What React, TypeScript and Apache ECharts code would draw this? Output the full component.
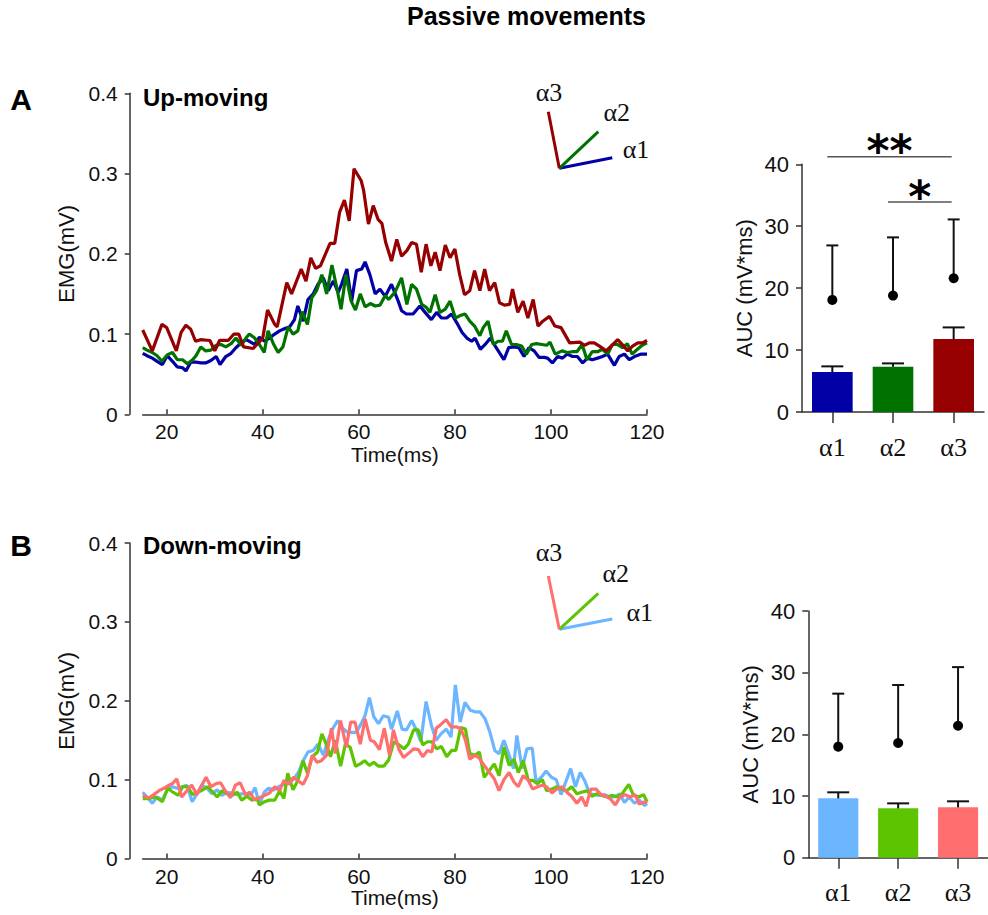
import React, { useEffect, useRef } from 'react';
import * as echarts from 'echarts';

// ---------- data ----------
const timeTicks = [20, 40, 60, 80, 100, 120];

// Up-moving EMG traces [time ms, EMG mV]
const upAlpha1: number[][] = [[15,0.076],[15.9,0.073],[17,0.070],[18,0.066],[19.1,0.062],[20.1,0.073],[21.2,0.066],[22.2,0.059],[23.3,0.058],[24,0.054],[25,0.065],[26.1,0.065],[27.1,0.064],[28.1,0.064],[29.2,0.067],[30.3,0.072],[31.1,0.062],[32.3,0.072],[33.4,0.076],[34.4,0.083],[35.5,0.089],[36.5,0.093],[37.2,0.091],[38.3,0.087],[39.3,0.096],[40.4,0.091],[41.4,0.095],[42.5,0.100],[43.5,0.104],[44.6,0.107],[45.6,0.109],[46.6,0.118],[47.3,0.135],[48.4,0.116],[49.4,0.143],[50.5,0.150],[51.5,0.162],[52.6,0.170],[53.6,0.154],[54.7,0.166],[55.7,0.152],[56.4,0.162],[57.5,0.181],[58.5,0.141],[59.5,0.179],[60.6,0.181],[61.3,0.190],[62.3,0.174],[63.4,0.150],[64.4,0.156],[65.5,0.147],[66.8,0.162],[68.2,0.141],[68.9,0.129],[69.9,0.125],[71.3,0.125],[72.7,0.135],[73.8,0.127],[75.1,0.118],[76.2,0.127],[77.2,0.120],[78.3,0.120],[79.3,0.125],[80.4,0.114],[81.5,0.102],[82.5,0.095],[83.5,0.091],[84.2,0.095],[85.3,0.081],[86.3,0.087],[87.4,0.095],[88.4,0.085],[90.2,0.068],[91.2,0.083],[92.3,0.084],[93.3,0.083],[94.4,0.072],[95.4,0.083],[96.5,0.079],[97.5,0.071],[98.6,0.071],[99.3,0.070],[100.3,0.064],[101.4,0.072],[102.4,0.070],[103.4,0.075],[104.5,0.072],[105.5,0.072],[106.6,0.064],[107.6,0.070],[108.6,0.068],[109.7,0.070],[110.7,0.072],[111.8,0.075],[113.2,0.061],[114.2,0.072],[115.3,0.075],[116.3,0.068],[117.4,0.072],[118.8,0.075],[120,0.075]];
const upAlpha2: number[][] = [[15,0.083],[15.9,0.080],[17,0.077],[18,0.073],[19,0.066],[20.1,0.074],[21.2,0.077],[22.2,0.068],[23.3,0.068],[24.3,0.063],[25.4,0.068],[26.1,0.073],[27.1,0.084],[28.1,0.079],[29.2,0.080],[30.3,0.086],[31.3,0.087],[32.3,0.084],[33.4,0.088],[34.4,0.095],[35.5,0.086],[36.5,0.095],[37.2,0.100],[38.3,0.095],[39.3,0.087],[40.3,0.077],[41.1,0.104],[42.2,0.088],[43.2,0.077],[44.2,0.084],[45.3,0.109],[46.3,0.100],[47.3,0.104],[48.2,0.128],[49.3,0.112],[50.2,0.145],[51.2,0.154],[52.3,0.174],[53.3,0.150],[54.4,0.186],[55.4,0.158],[56.3,0.131],[57.3,0.174],[58.4,0.141],[59.3,0.130],[60.3,0.150],[61.3,0.134],[62.4,0.138],[63.4,0.135],[64.4,0.136],[65.5,0.148],[66.2,0.143],[67.5,0.152],[68.9,0.170],[70,0.137],[71,0.162],[72,0.156],[73.1,0.137],[74.1,0.133],[74.8,0.127],[75.9,0.149],[76.9,0.127],[78,0.131],[79,0.141],[80.1,0.120],[81.1,0.123],[82.1,0.125],[83.1,0.116],[84.1,0.110],[85.2,0.098],[85.9,0.108],[86.9,0.116],[88,0.087],[89,0.091],[89.9,0.091],[90.7,0.104],[91.8,0.087],[92.8,0.087],[93.9,0.085],[94.9,0.075],[96,0.087],[97,0.088],[98.1,0.087],[99.1,0.086],[99.8,0.090],[100.9,0.075],[102.3,0.079],[103.4,0.077],[104.4,0.078],[105.4,0.078],[106.5,0.087],[107.5,0.068],[108.6,0.078],[109.7,0.078],[110.7,0.081],[111.8,0.075],[112.8,0.087],[113.8,0.087],[114.9,0.083],[115.9,0.088],[116.9,0.075],[118,0.081],[119,0.086],[120,0.089]];
const upAlpha3: number[][] = [[15,0.105],[17,0.079],[19,0.112],[20,0.108],[22,0.079],[23,0.102],[24,0.111],[25,0.106],[26,0.091],[27,0.093],[29,0.092],[30,0.079],[31,0.092],[32.8,0.092],[34,0.100],[35,0.100],[36,0.084],[38,0.082],[40,0.095],[41,0.130],[42.5,0.112],[43,0.109],[45,0.164],[46,0.150],[48,0.181],[49,0.166],[50,0.195],[51,0.182],[52,0.185],[54,0.213],[55,0.213],[56,0.252],[57,0.267],[58,0.241],[59,0.306],[60.5,0.291],[61,0.279],[62,0.237],[63,0.260],[64,0.243],[64.8,0.238],[65.6,0.214],[66.8,0.191],[67.9,0.218],[68.9,0.197],[70,0.204],[71,0.214],[72,0.212],[73,0.177],[74,0.212],[75,0.185],[75.9,0.202],[76.9,0.179],[78,0.211],[79,0.195],[80,0.206],[81,0.174],[82,0.149],[83.1,0.154],[84.1,0.179],[85.2,0.154],[86.2,0.181],[87.2,0.154],[88.3,0.164],[89.3,0.139],[90.3,0.136],[91.4,0.137],[92,0.156],[93.1,0.127],[94.2,0.141],[95.2,0.120],[96.3,0.143],[97.3,0.110],[98.3,0.116],[99.7,0.122],[100.8,0.110],[102.1,0.108],[103.9,0.089],[106,0.090],[107,0.086],[108,0.089],[109,0.089],[110.1,0.085],[111.5,0.079],[112.9,0.087],[113.9,0.093],[115,0.086],[116,0.079],[117,0.085],[118.1,0.089],[119.1,0.089],[120,0.092]];

// Down-moving EMG traces
const downAlpha1: number[][] = [[15,0.084],[15.9,0.078],[17,0.070],[18,0.078],[19.1,0.074],[20.1,0.087],[21.2,0.091],[22.2,0.089],[23.3,0.091],[24.2,0.093],[25.3,0.072],[26.3,0.082],[27.3,0.093],[28.4,0.089],[29.4,0.082],[30.5,0.087],[31.5,0.080],[32.5,0.084],[33.6,0.083],[34.6,0.081],[35.6,0.082],[36.7,0.082],[37.6,0.081],[38.4,0.090],[39.3,0.068],[40.3,0.084],[41.2,0.089],[42.3,0.087],[43.3,0.091],[44.4,0.094],[45.4,0.097],[46.4,0.100],[47.5,0.110],[48.4,0.124],[49.4,0.135],[50.5,0.137],[51.5,0.145],[52.6,0.131],[53.6,0.150],[54.6,0.165],[55.6,0.175],[56.5,0.166],[57.6,0.160],[58.4,0.160],[59.5,0.160],[60.5,0.171],[61.3,0.181],[62.2,0.204],[63.1,0.180],[64.1,0.171],[65.1,0.181],[66.2,0.179],[66.8,0.164],[68,0.187],[69,0.164],[69.9,0.163],[71,0.175],[72,0.163],[72.9,0.148],[74,0.199],[75.1,0.169],[76.1,0.150],[77.1,0.158],[78.2,0.164],[79.2,0.154],[80.1,0.220],[81.1,0.173],[82.1,0.198],[83.2,0.188],[84.2,0.186],[85.2,0.186],[86.3,0.177],[87.3,0.160],[88.3,0.137],[89.2,0.133],[90.2,0.150],[91.3,0.131],[92.2,0.114],[92.9,0.156],[94,0.114],[95,0.139],[96.1,0.140],[96.9,0.097],[98,0.103],[99,0.111],[100.1,0.103],[101.1,0.100],[102.1,0.081],[103.2,0.099],[104.1,0.114],[105.1,0.091],[106.1,0.109],[107,0.099],[108.1,0.082],[109.1,0.081],[110.1,0.080],[111.2,0.081],[112.2,0.078],[113.2,0.078],[114.3,0.082],[115.3,0.071],[116.3,0.078],[117.4,0.070],[118.4,0.074],[119.5,0.067],[120,0.070]];
const downAlpha2: number[][] = [[15,0.076],[16.3,0.076],[17.7,0.078],[19.1,0.072],[20.2,0.089],[21.3,0.084],[22.4,0.080],[23.3,0.091],[24.3,0.091],[25.4,0.081],[26.5,0.084],[27.5,0.087],[28.5,0.091],[29.6,0.084],[30.5,0.078],[31.5,0.086],[32.6,0.082],[33.6,0.080],[34.7,0.084],[35.6,0.074],[36.7,0.079],[37.7,0.074],[38.8,0.076],[39.3,0.068],[40.4,0.072],[41.4,0.074],[42.5,0.074],[43.5,0.086],[44.4,0.076],[45.2,0.108],[46.3,0.087],[47.3,0.099],[48.4,0.124],[49.3,0.108],[50.3,0.129],[51.4,0.135],[52.3,0.158],[53.2,0.145],[54.1,0.129],[55.1,0.150],[56.2,0.117],[57.2,0.145],[58.2,0.141],[59.3,0.117],[60.3,0.120],[61.2,0.124],[62.2,0.118],[63.1,0.122],[64.1,0.117],[65.2,0.117],[66.2,0.125],[67.3,0.148],[68.4,0.144],[69.4,0.139],[70.3,0.145],[71.4,0.163],[72.4,0.163],[73.3,0.144],[74.3,0.148],[75.2,0.148],[76.2,0.139],[77.2,0.142],[78.3,0.129],[79.3,0.137],[80.2,0.137],[81.2,0.166],[82.2,0.164],[83.1,0.133],[84.2,0.131],[85.1,0.135],[86.1,0.103],[87.1,0.111],[88.2,0.120],[89.2,0.105],[90.2,0.141],[91.3,0.118],[92.3,0.126],[93.2,0.109],[94.2,0.124],[95.3,0.099],[96.2,0.099],[97.2,0.095],[98.2,0.100],[99.1,0.086],[100.2,0.088],[101.2,0.091],[102.3,0.088],[103.3,0.086],[104.3,0.091],[105.4,0.082],[106.4,0.084],[107.5,0.086],[108.5,0.079],[109.6,0.082],[110.6,0.080],[111.7,0.078],[112.7,0.080],[113.8,0.078],[114.8,0.082],[116.2,0.094],[117.2,0.080],[118.3,0.078],[119.3,0.081],[120,0.072]];
const downAlpha3: number[][] = [[15,0.080],[16.3,0.077],[17.3,0.081],[18.4,0.086],[19.4,0.089],[20.5,0.093],[21.2,0.095],[22.1,0.101],[23.1,0.078],[24.2,0.086],[25.2,0.093],[26.3,0.081],[27.3,0.093],[28.2,0.103],[29.2,0.091],[30.3,0.095],[31.2,0.096],[32.4,0.084],[33.3,0.077],[34.3,0.093],[35.3,0.096],[36.4,0.081],[37.3,0.084],[38.3,0.074],[39.3,0.077],[40.4,0.080],[41.4,0.083],[42.5,0.091],[43.5,0.086],[44.4,0.099],[45.4,0.094],[46.4,0.103],[47.5,0.098],[48.4,0.094],[49.3,0.105],[50.3,0.131],[51.3,0.122],[52.2,0.124],[53.3,0.131],[54.3,0.165],[55.1,0.133],[56.2,0.175],[57.4,0.141],[58.3,0.173],[59.2,0.173],[60.3,0.145],[61.3,0.177],[62.4,0.150],[63.2,0.148],[64.3,0.138],[65.3,0.165],[66.4,0.131],[67.2,0.163],[68.3,0.139],[69.3,0.128],[70.3,0.133],[71.4,0.139],[72.4,0.138],[73.3,0.129],[74.3,0.137],[75.2,0.135],[76.1,0.165],[77.1,0.170],[78.2,0.176],[79.2,0.167],[80.2,0.167],[81.2,0.165],[82.2,0.150],[83.1,0.126],[84.2,0.131],[85.1,0.127],[86.1,0.118],[87.2,0.109],[88.2,0.101],[89.2,0.086],[90.2,0.100],[91.3,0.109],[92.3,0.097],[93.2,0.091],[94.2,0.105],[95.3,0.099],[96.2,0.088],[97.2,0.091],[98.2,0.093],[99.1,0.091],[100.2,0.083],[101.2,0.088],[102.3,0.091],[103.3,0.084],[104.3,0.079],[105.4,0.070],[106.4,0.078],[107.3,0.066],[108.3,0.088],[109.4,0.088],[110.4,0.081],[111.4,0.079],[112.3,0.076],[113.4,0.068],[114.4,0.078],[115.4,0.081],[116.5,0.078],[117.5,0.081],[118.4,0.069],[119.6,0.072],[120,0.070]];

// AUC bar data
const categories = ['α1', 'α2', 'α3'];
const upBarMean = [6.45, 7.31, 11.77];
const upBarErrTop = [7.37, 7.85, 13.66];
const upDot = [18.1, 18.8, 21.6];
const upDotTop = [26.9, 28.2, 31.1];
const downBarMean = [9.62, 8.0, 8.16];
const downBarErrTop = [10.6, 8.81, 9.14];
const downDot = [18.0, 18.6, 21.4];
const downDotTop = [26.6, 28.0, 30.9];
// significance brackets: [fromIndex, toIndex, level]
const sigBrackets = [[0, 2, 41.2], [1, 2, 33.9]];
const sigLabels = ['**', '*'];

// ---------- styles ----------
const upColors = ['#0000A6', '#007200', '#960000'];
const downColors = ['#6CB6FF', '#5CC400', '#FF6F6F'];
const SANS = 'Liberation Sans, Arial, sans-serif';
const SERIF = 'Liberation Serif, Times New Roman, serif';
const AXIS = '#333';

function lineSeries(name: string, data: number[][], color: string, idx: number) {
  return {
    type: 'line', name, data, xAxisIndex: idx, yAxisIndex: idx,
    showSymbol: false, symbol: 'none',
    lineStyle: { color, width: 3.2 }, itemStyle: { color },
    silent: true,
  };
}

function whiskerRender(capW: number) {
  return (_p: any, api: any) => {
    const x = api.value(0);
    const lo = api.coord([x, api.value(1)]);
    const hi = api.coord([x, api.value(2)]);
    const st = { stroke: '#111', lineWidth: 2 };
    return {
      type: 'group',
      children: [
        { type: 'line', shape: { x1: lo[0], y1: lo[1], x2: hi[0], y2: hi[1] }, style: st },
        { type: 'line', shape: { x1: hi[0] - capW / 2, y1: hi[1], x2: hi[0] + capW / 2, y2: hi[1] }, style: st },
      ],
    };
  };
}

function barSet(idx: number, mean: number[], errTop: number[], dot: number[], dotTop: number[], colors: string[]) {
  return [
    {
      type: 'bar', xAxisIndex: idx, yAxisIndex: idx, barWidth: '67%',
      data: mean.map((v, i) => ({ value: v, itemStyle: { color: colors[i] } })),
      silent: true, z: 2,
    },
    {
      type: 'custom', xAxisIndex: idx, yAxisIndex: idx,
      data: mean.map((v, i) => [i, v, errTop[i]]),
      encode: { x: 0, y: [1, 2] },
      renderItem: whiskerRender(22), silent: true, z: 3,
    },
    {
      type: 'custom', xAxisIndex: idx, yAxisIndex: idx,
      data: dot.map((v, i) => [i, v, dotTop[i]]),
      encode: { x: 0, y: [1, 2] },
      renderItem: whiskerRender(12), silent: true, z: 3,
    },
    {
      type: 'scatter', xAxisIndex: idx, yAxisIndex: idx,
      data: dot.map((v, i) => [i, v]),
      symbolSize: 10, itemStyle: { color: '#000', opacity: 1 }, silent: true, z: 4,
    },
  ];
}

function lineXAxis(idx: number, nameGap: number) {
  return {
    type: 'value', gridIndex: idx, min: 15, max: 120,
    name: 'Time(ms)', nameLocation: 'middle', nameGap,
    nameTextStyle: { fontFamily: SANS, fontSize: 21, color: '#111' },
    axisLine: { show: true, lineStyle: { color: AXIS, width: 1.5 } },
    axisTick: { show: true, inside: true, length: 5, customValues: timeTicks, lineStyle: { color: AXIS, width: 1.5 } },
    axisLabel: { customValues: timeTicks, fontFamily: SANS, fontSize: 21, color: '#111', margin: 7 },
    splitLine: { show: false },
  };
}

function lineYAxis(idx: number) {
  return {
    type: 'value', gridIndex: idx, min: 0, max: 0.4, interval: 0.1, offset: 13,
    name: 'EMG(mV)', nameLocation: 'middle', nameGap: 50, nameRotate: 90,
    nameTextStyle: { fontFamily: SANS, fontSize: 22, color: '#111' },
    axisLine: { show: true, lineStyle: { color: AXIS, width: 1.5 } },
    axisTick: { show: true, length: 5, lineStyle: { color: AXIS, width: 1.5 } },
    axisLabel: { fontFamily: SANS, fontSize: 21, color: '#111', margin: 12,
      formatter: (v: number) => (v === 0 ? '0' : v.toFixed(1)) },
    splitLine: { show: false },
  };
}

function barXAxis(idx: number) {
  return {
    type: 'category', gridIndex: idx, data: categories,
    axisLine: { show: true, lineStyle: { color: AXIS, width: 1.5 } },
    axisTick: { show: true, alignWithLabel: true, length: 11, lineStyle: { color: AXIS, width: 1.5 } },
    axisLabel: { fontFamily: SERIF, fontSize: 26, color: '#111', margin: 22 },
    splitLine: { show: false },
  };
}

function barYAxis(idx: number) {
  return {
    type: 'value', gridIndex: idx, min: 0, max: 40, interval: 10,
    name: 'AUC (mV*ms)', nameLocation: 'middle', nameGap: 47, nameRotate: 90,
    nameTextStyle: { fontFamily: SANS, fontSize: 22, color: '#111' },
    axisLine: { show: true, lineStyle: { color: AXIS, width: 1.5 } },
    axisTick: { show: true, length: 6, lineStyle: { color: AXIS, width: 1.5 } },
    axisLabel: { fontFamily: SANS, fontSize: 22, color: '#111', margin: 13 },
    splitLine: { show: false },
  };
}

function iconGraphics(base: number[], a3: number[], a2: number[], a1: number[], colors: string[], labels: number[][]) {
  const els: any[] = [];
  const ends = [a1, a2, a3];
  ends.forEach((e, i) => {
    els.push({
      type: 'line', silent: true,
      shape: { x1: base[0], y1: base[1], x2: e[0], y2: e[1] },
      style: { stroke: colors[i], lineWidth: 3 },
    });
  });
  labels.forEach((p, i) => {
    els.push({
      type: 'text', silent: true, x: p[0], y: p[1],
      style: { text: categories[i], font: `26px ${SERIF}`, fill: '#111', textAlign: 'center', textVerticalAlign: 'middle' },
    });
  });
  return els;
}

export default function App() {
  const ref = useRef<HTMLDivElement>(null);
  useEffect(() => {
    if (!ref.current) return;
    const chart = echarts.init(ref.current, undefined, { renderer: 'svg' });
    const option: any = {
      animation: false,
      backgroundColor: '#fff',
      textStyle: { fontFamily: SANS },
      grid: [
        { left: 142.7, right: 341, top: 93.3, bottom: 500.7 },
        { left: 802, width: 182, top: 164.3, bottom: 503 },
        { left: 142.7, right: 341, top: 543, bottom: 56.5 },
        { left: 808.3, width: 189, top: 611, bottom: 57.3 },
      ],
      xAxis: [lineXAxis(0, 30), barXAxis(1), lineXAxis(2, 25), barXAxis(3)],
      yAxis: [lineYAxis(0), barYAxis(1), lineYAxis(2), barYAxis(3)],
      series: [
        lineSeries('Up α1', upAlpha1, upColors[0], 0),
        lineSeries('Up α2', upAlpha2, upColors[1], 0),
        lineSeries('Up α3', upAlpha3, upColors[2], 0),
        ...barSet(1, upBarMean, upBarErrTop, upDot, upDotTop, upColors),
        {
          type: 'custom', xAxisIndex: 1, yAxisIndex: 1, silent: true, z: 5,
          data: sigBrackets.map((b, i) => [b[0], b[1], b[2], i]),
          encode: { x: [0, 1], y: 2 },
          renderItem: (_p: any, api: any) => {
            const p1 = api.coord([api.value(0), api.value(2)]);
            const p2 = api.coord([api.value(1), api.value(2)]);
            const label = sigLabels[api.value(3)];
            const x1 = p1[0] - 5;
            const x2 = p2[0] - 2;
            return {
              type: 'group',
              children: [
                { type: 'line', shape: { x1, y1: p1[1], x2, y2: p2[1] }, style: { stroke: '#555', lineWidth: 1.5 } },
                { type: 'text', x: (x1 + x2) / 2, y: p1[1] - 6,
                  style: { text: label, font: `bold 44px DejaVu Sans, ${SANS}`, fill: '#000', textAlign: 'center', textVerticalAlign: 'middle' } },
              ],
            };
          },
        },
        lineSeries('Down α1', downAlpha1, downColors[0], 2),
        lineSeries('Down α2', downAlpha2, downColors[1], 2),
        lineSeries('Down α3', downAlpha3, downColors[2], 2),
        ...barSet(3, downBarMean, downBarErrTop, downDot, downDotTop, downColors),
      ],
      graphic: [
        { type: 'text', silent: true, x: 526.5, y: 16,
          style: { text: 'Passive movements', font: `bold 25px ${SANS}`, fill: '#000', textAlign: 'center', textVerticalAlign: 'middle' } },
        { type: 'text', silent: true, x: 21, y: 99,
          style: { text: 'A', font: `bold 30px ${SANS}`, fill: '#000', textAlign: 'center', textVerticalAlign: 'middle' } },
        { type: 'text', silent: true, x: 21, y: 545,
          style: { text: 'B', font: `bold 30px ${SANS}`, fill: '#000', textAlign: 'center', textVerticalAlign: 'middle' } },
        { type: 'text', silent: true, x: 143, y: 97,
          style: { text: 'Up-moving', font: `bold 24px ${SANS}`, fill: '#000', textAlign: 'left', textVerticalAlign: 'middle' } },
        { type: 'text', silent: true, x: 143, y: 545,
          style: { text: 'Down-moving', font: `bold 24px ${SANS}`, fill: '#000', textAlign: 'left', textVerticalAlign: 'middle' } },
        ...iconGraphics([559.3, 168.3], [548.3, 111.7], [598.3, 131.7], [612.3, 157.7], upColors,
          [[636, 149], [616.7, 112], [549, 92.5]]),
        ...iconGraphics([559.3, 629.3], [548.3, 576], [598.3, 593.3], [612.3, 619], downColors,
          [[639.7, 612.5], [615.8, 573.7], [549, 552.5]]),
      ],
    };
    chart.setOption(option);
    return () => chart.dispose();
  }, []);
  return (
    <div
      ref={ref}
      style={{ position: 'absolute', left: 0, top: 0, width: 988, height: 915, background: '#fff' }}
    />
  );
}
